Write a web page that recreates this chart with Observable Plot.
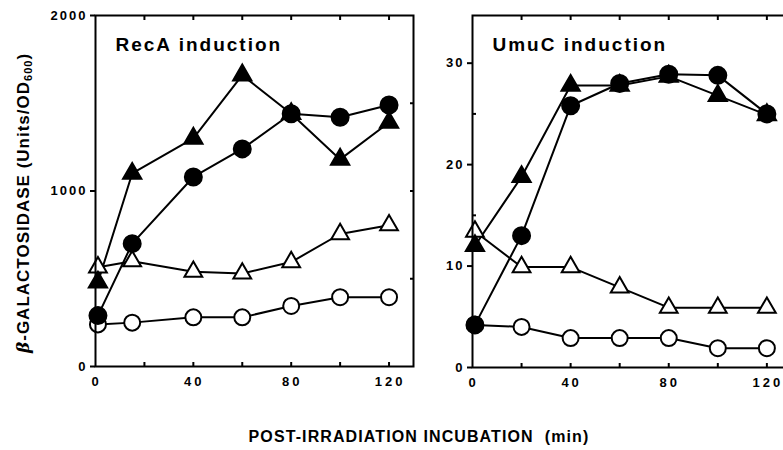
<!DOCTYPE html>
<html><head><meta charset="utf-8">
<script src="https://cdn.jsdelivr.net/npm/d3@7"></script>
<script src="https://cdn.jsdelivr.net/npm/@observablehq/plot@0.6"></script>
<style>
body{margin:0;background:#fff;}
#wrap{position:relative;width:783px;height:450px;overflow:hidden;font-family:"Liberation Sans",Arial,sans-serif;font-weight:bold;color:#000;background:#fff;}
.p{position:absolute;top:0;}
#ylab{position:absolute;left:23px;top:203px;transform:translate(-50%,-50%) rotate(-90deg);white-space:nowrap;font-size:17px;letter-spacing:1px;}
#ylab i{font-family:"DejaVu Serif",serif;font-style:italic;}
#ylab sub{font-size:11px;vertical-align:-3px;line-height:0;}
#xlab{position:absolute;left:419px;top:437px;transform:translate(-50%,-50%);white-space:pre;font-size:16px;letter-spacing:1.1px;}
</style></head>
<body><div id="wrap"><div id="ylab"><i>β</i>-GALACTOSIDASE (Units/OD<sub>600</sub>)</div><div id="xlab">POST-IRRADIATION INCUBATION  (min)</div></div>
<script>
// ---- RecA induction (left panel) ----
const recaTitle = "RecA induction";
const recaTimes = [1, 15, 40, 60, 80, 100, 120];
const recaFilledTriangle = [480, 1100, 1300, 1660, 1440, 1180, 1390];
const recaFilledCircle   = [290, 700, 1080, 1240, 1440, 1420, 1490];
const recaOpenTriangle   = [565, 600, 540, 530, 595, 755, 805];
const recaOpenCircle     = [240, 250, 280, 280, 345, 395, 395];
const recaYTickLabels = [0, 1000, 2000];
const recaYMinorTicks = [500, 1000, 1500];

// ---- UmuC induction (right panel) ----
const umucTitle = "UmuC induction";
const umucTimes = [1, 20, 40, 60, 80, 100, 120];
const umucFilledTriangle = [12, 18.8, 27.8, 27.8, 28.7, 26.8, 24.9];
const umucFilledCircle   = [4.2, 13, 25.8, 28, 28.9, 28.8, 25];
const umucOpenTriangle   = [13.4, 9.9, 9.9, 7.9, 5.9, 5.9, 5.9];
const umucOpenCircle     = [4.2, 4, 2.9, 2.9, 2.9, 1.9, 1.9];
const umucYTickLabels = [0, 10, 20, 30];
const umucYMinorTicks = [5, 15, 25];
const umucYRightTicks = [10, 20, 30];

const xTickLabels = [0, 40, 80, 120];
const xMinorTicks = [20, 40, 60, 80, 100, 120];

const seriesStyle = {
  openCircle:     {symbol: "circle",   fill: "white", r: 8},
  openTriangle:   {symbol: "triangle", fill: "white", r: 6.6},
  filledCircle:   {symbol: "circle",   fill: "black", r: 8.5},
  filledTriangle: {symbol: "triangle", fill: "black", r: 6.8}
};

function panel({title, times, series, xDomain, yDomain, yLabels, yMinor, yRight, left, width, marginLeft, marginBottom}) {
  const rows = [];
  for (const [name, vals] of Object.entries(series)) vals.forEach((v, i) => rows.push({t: times[i], v, s: name}));
  const marks = [
    Plot.line(rows, {x: "t", y: "v", z: "s", stroke: "black", strokeWidth: 2}),
    ...Object.keys(series).map(name => Plot.dot(rows.filter(d => d.s === name), {
      x: "t", y: "v", symbol: seriesStyle[name].symbol, r: seriesStyle[name].r,
      fill: seriesStyle[name].fill, stroke: "black", strokeWidth: 2
    })),
    Plot.frame({stroke: "black", strokeWidth: 2}),
    Plot.axisY(yLabels, {anchor: "left", tickSize: 5, tickPadding: 3, strokeWidth: 2, fontSize: 13, fontWeight: "bold", label: null, tickFormat: d => String(d)}),
    Plot.axisY(yMinor, {anchor: "left", tickSize: -4, strokeWidth: 2, tickFormat: () => "", label: null}),
    Plot.axisY(yRight, {anchor: "right", tickSize: -4, strokeWidth: 2, tickFormat: () => "", label: null}),
    Plot.axisX(xMinorTicks, {anchor: "bottom", tickSize: -4, strokeWidth: 2, tickFormat: () => "", label: null}),
    Plot.axisX(xMinorTicks, {anchor: "top", tickSize: -4, strokeWidth: 2, tickFormat: () => "", label: null}),
    Plot.axisX(xTickLabels, {anchor: "bottom", tickSize: 0, tickPadding: 10, fontSize: 13, fontWeight: "bold", label: null, dx: 1, tickFormat: d => String(d)}),
    Plot.text([title], {frameAnchor: "top-left", dx: 20, dy: 22, fontSize: 19, fontWeight: "bold", textAnchor: "start"})
  ];
  const svg = Plot.plot({
    width, height: 400, marginLeft, marginRight: 5, marginTop: 15, marginBottom,
    x: {domain: xDomain},
    y: {domain: yDomain},
    style: {fontFamily: "Liberation Sans, Arial, sans-serif", fontWeight: "bold", background: "transparent", color: "black", overflow: "visible"},
    marks
  });
  d3.select(svg).selectAll('[aria-label="y-axis tick label"] text').attr("letter-spacing", 2);
  d3.select(svg).selectAll('[aria-label="x-axis tick label"] text').attr("letter-spacing", 3);
  d3.select(svg).selectAll('[aria-label="text"] text').attr("letter-spacing", 2);
  svg.classList.add("p");
  svg.style.left = left + "px";
  document.getElementById("wrap").appendChild(svg);
}

panel({
  title: recaTitle, times: recaTimes,
  series: {openCircle: recaOpenCircle, openTriangle: recaOpenTriangle, filledCircle: recaFilledCircle, filledTriangle: recaFilledTriangle},
  xDomain: [0, 130], yDomain: [0, 2000], yLabels: recaYTickLabels, yMinor: [], yRight: recaYMinorTicks,
  left: 0, width: 418, marginLeft: 95, marginBottom: 34
});
panel({
  title: umucTitle, times: umucTimes,
  series: {openCircle: umucOpenCircle, openTriangle: umucOpenTriangle, filledCircle: umucFilledCircle, filledTriangle: umucFilledTriangle},
  xDomain: [0, 128], yDomain: [0, 34.7], yLabels: umucYTickLabels, yMinor: umucYMinorTicks, yRight: umucYRightTicks,
  left: 412, width: 379, marginLeft: 60, marginBottom: 33
});
</script>
</body></html>
